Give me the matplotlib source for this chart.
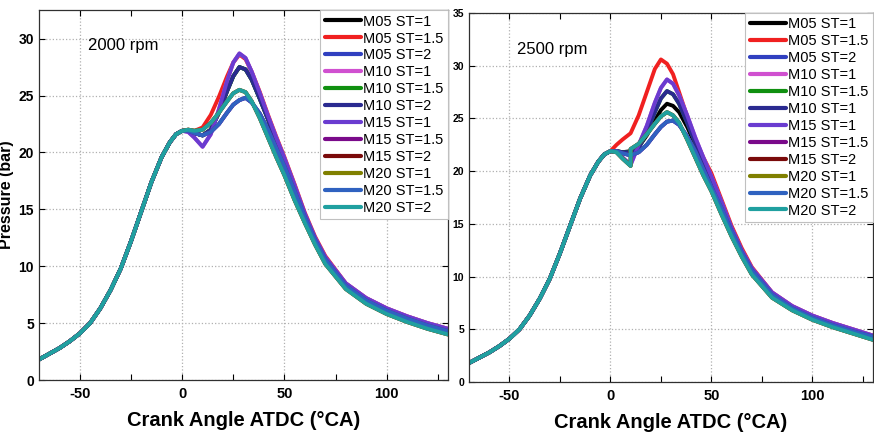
import matplotlib.pyplot as plt
from matplotlib.ticker import MultipleLocator

plt.rcParams['font.family'] = ['Liberation Sans', 'DejaVu Sans']
plt.rcParams['axes.unicode_minus'] = False

# compression stroke, shared by every run
angle_comp = [-70, -65, -60, -55, -50, -45, -40, -35, -30, -25, -20, -15, -10, -6, -3, 0]
p_comp = [1.8, 2.3, 2.8, 3.4, 4.1, 5.0, 6.3, 7.9, 9.8, 12.2, 14.8, 17.4, 19.6, 20.9, 21.6, 21.9]

# combustion / expansion part, 2000 rpm
ca_2000 = [3, 6, 10, 14, 18, 22, 25, 28, 31, 34, 38, 42, 46, 50, 55, 60, 65, 70, 80, 90, 100, 110, 120, 130]
red_2000 = [22.0, 21.9, 22.2, 23.3, 24.9, 26.7, 27.9, 28.6, 28.2, 27.1, 25.3, 23.3, 21.4, 19.6,
            17.2, 14.7, 12.6, 10.9, 8.5, 7.2, 6.3, 5.6, 5.0, 4.5]
violet_2000 = [21.8, 21.3, 20.5, 21.6, 23.8, 26.3, 27.9, 28.7, 28.3, 27.1, 25.2, 23.2, 21.3, 19.5,
               17.1, 14.6, 12.5, 10.8, 8.5, 7.2, 6.3, 5.6, 5.0, 4.5]
navy_2000 = [21.9, 21.7, 21.5, 22.0, 23.5, 25.4, 26.7, 27.5, 27.3, 26.4, 24.7, 22.9, 21.0, 19.3,
             16.9, 14.5, 12.4, 10.7, 8.4, 7.1, 6.2, 5.5, 4.9, 4.4]
blue_2000 = [21.9, 21.7, 21.5, 21.8, 22.5, 23.5, 24.2, 24.6, 24.8, 24.4, 23.4, 22.0, 20.4, 18.8,
             16.6, 14.3, 12.3, 10.6, 8.3, 7.0, 6.1, 5.4, 4.8, 4.3]
teal_2000 = [22.0, 21.9, 22.0, 22.6, 23.5, 24.5, 25.2, 25.5, 25.3, 24.5, 23.0, 21.3, 19.6, 18.0,
             15.8, 13.8, 11.9, 10.2, 8.0, 6.7, 5.8, 5.1, 4.5, 4.0]

# combustion / expansion part, 2500 rpm (step at 10 deg)
ca_2500 = [3, 6, 10, 10, 14, 18, 22, 25, 28, 31, 34, 38, 42, 46, 50, 55, 60, 65, 70, 80, 90, 100, 110, 120, 130]
red_2500 = [22.5, 23.0, 23.6, 23.6, 25.3, 27.5, 29.7, 30.6, 30.2, 29.2, 27.5, 25.2, 23.0, 21.3, 19.8,
            17.3, 14.8, 12.7, 10.9, 8.5, 7.2, 6.3, 5.6, 5.0, 4.4]
violet_2500 = [21.8, 21.3, 20.6, 20.6, 22.5, 24.3, 26.5, 27.9, 28.7, 28.3, 27.2, 25.3, 23.2, 21.3, 19.5,
               17.1, 14.6, 12.5, 10.8, 8.5, 7.2, 6.3, 5.6, 5.0, 4.4]
navy_2500 = [21.9, 21.8, 21.8, 21.8, 22.2, 23.7, 25.6, 26.9, 27.6, 27.3, 26.4, 24.6, 22.7, 20.9, 19.2,
             16.9, 14.5, 12.4, 10.7, 8.4, 7.1, 6.2, 5.5, 4.9, 4.3]
black_2500 = [21.9, 21.8, 21.9, 21.9, 22.3, 23.4, 24.8, 25.8, 26.4, 26.2, 25.6, 24.2, 22.5, 20.7, 18.9,
              16.7, 14.4, 12.3, 10.6, 8.3, 7.0, 6.2, 5.5, 4.9, 4.3]
blue_2500 = [21.9, 21.7, 21.5, 21.5, 21.8, 22.5, 23.5, 24.2, 24.7, 24.8, 24.4, 23.3, 21.9, 20.2, 18.5,
             16.5, 14.3, 12.3, 10.6, 8.3, 7.0, 6.1, 5.4, 4.8, 4.3]
teal_2500 = [21.8, 21.2, 20.5, 22.1, 22.6, 23.5, 24.5, 25.2, 25.6, 25.3, 24.6, 23.0, 21.3, 19.6, 18.1,
             15.9, 13.8, 11.9, 10.2, 8.0, 6.8, 5.9, 5.2, 4.6, 4.0]

labels_2000 = ['M05 ST=1', 'M05 ST=1.5', 'M05 ST=2', 'M10 ST=1', 'M10 ST=1.5', 'M10 ST=2',
               'M15 ST=1', 'M15 ST=1.5', 'M15 ST=2', 'M20 ST=1', 'M20 ST=1.5', 'M20 ST=2']
labels_2500 = ['M05 ST=1', 'M05 ST=1.5', 'M05 ST=2', 'M10 ST=1', 'M10 ST=1.5', 'M10 ST=1',
               'M15 ST=1', 'M15 ST=1.5', 'M15 ST=2', 'M20 ST=1', 'M20 ST=1.5', 'M20 ST=2']
line_colors = ['#000000', '#f02020', '#3040c0', '#d050d0', '#109010', '#2a2a90',
               '#6a3cd0', '#7a0a8a', '#7a0a0a', '#808000', '#2f62c0', '#20a0a0']

curves_2000 = [navy_2000, red_2000, blue_2000, violet_2000, navy_2000, navy_2000,
               violet_2000, blue_2000, teal_2000, teal_2000, blue_2000, teal_2000]
curves_2500 = [black_2500, red_2500, blue_2500, violet_2500, navy_2500, navy_2500,
               violet_2500, blue_2500, teal_2500, teal_2500, blue_2500, teal_2500]

fig = plt.figure(figsize=(8.74, 4.33), dpi=100)
ax1 = fig.add_axes([0.0446, 0.1224, 0.468, 0.854])
ax2 = fig.add_axes([0.5366, 0.1178, 0.4623, 0.852])


def draw(ax, ca, curves, labels, ymax, yfont, rpm, rpm_xy):
    for vals, lab, c in zip(curves, labels, line_colors):
        ax.plot(angle_comp + ca, p_comp + vals, color=c, lw=2.8, label=lab,
                solid_joinstyle='round', solid_capstyle='round')
    ax.set_xlim(-70, 130)
    ax.set_ylim(0, ymax)
    ax.xaxis.set_major_locator(MultipleLocator(50))
    ax.xaxis.set_minor_locator(MultipleLocator(25))
    ax.yaxis.set_major_locator(MultipleLocator(5))
    ax.grid(True, which='major', ls=':', color='#b0b0b0', lw=0.9)
    ax.tick_params(which='both', direction='in', top=True, right=True, length=4, width=0.8)
    ax.tick_params(axis='x', labelsize=10.5, pad=5)
    ax.tick_params(axis='y', labelsize=yfont)
    for t in ax.get_xticklabels() + ax.get_yticklabels():
        t.set_fontweight('bold')
    for s in ax.spines.values():
        s.set_color('#303030')
        s.set_linewidth(0.9)
    ax.set_xlabel('Crank Angle ATDC (\u00b0CA)', fontsize=14.5, fontweight='bold', labelpad=7)
    ax.text(rpm_xy[0], rpm_xy[1], rpm, transform=ax.transAxes, fontsize=12, va='center')
    leg = ax.legend(loc='upper right', bbox_to_anchor=(1.0, 1.0), borderaxespad=0,
                    fontsize=10.5, labelspacing=0.2, handlelength=2.5, handletextpad=0.15,
                    borderpad=0.3, fancybox=False, framealpha=1, edgecolor='#c0c0c0')
    leg.get_frame().set_linewidth(0.8)
    for h in leg.get_lines():
        h.set_linewidth(3.0)


draw(ax1, ca_2000, curves_2000, labels_2000, 32.5, 10, '2000 rpm', (0.12, 0.905))
draw(ax2, ca_2500, curves_2500, labels_2500, 35, 7.5, '2500 rpm', (0.12, 0.90))
ax1.set_ylabel('Pressure (bar)', fontsize=11.5, fontweight='bold')
ax1.yaxis.set_label_coords(-0.06, 0.5)

fig.savefig('out.png', dpi=100)
